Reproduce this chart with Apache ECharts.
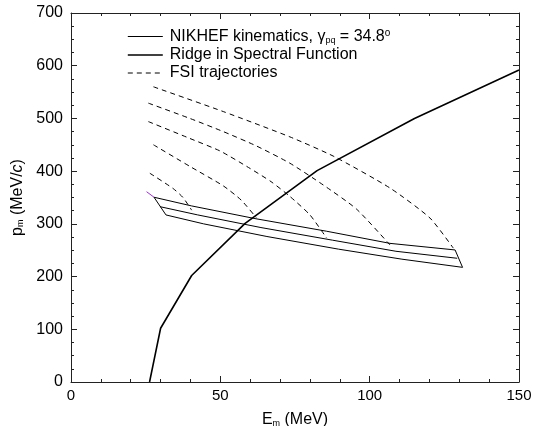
<!DOCTYPE html>
<html>
<head>
<meta charset="utf-8">
<script src="https://cdn.jsdelivr.net/npm/echarts@6/dist/echarts.min.js"></script>
<style>
  html, body { margin: 0; padding: 0; background: #fff; }
  #chart { width: 533px; height: 426px; }
</style>
</head>
<body>
<div id="chart"></div>
<script>
// Ridge in spectral function
const ridgeE = [26.3, 30, 40.4, 58.3, 82.4, 115, 150]
const ridgeP = [0, 102, 202, 301, 401, 500, 592]

// NIKHEF kinematics band (upper, middle, lower edges)
const kinTopE = [27.8, 40.4, 61.6, 85.6, 106.8, 128.6]
const kinTopP = [350.5, 334, 310, 286, 263, 250.5]
const kinMidE = [29.8, 42.4, 63.6, 87.6, 108.8, 129.3]
const kinMidP = [332.6, 317, 293, 269, 248, 234.7]
const kinBotE = [31.8, 44.4, 65.6, 89.6, 110.8, 131.1]
const kinBotP = [316.9, 300, 276, 252, 233, 217.5]
const kinTipE = [25.3, 27.8]
const kinTipP = [361, 350.5]

// FSI trajectories
const fsiE = [
  [27.6, 51, 73.3, 88, 106.8, 120.2, 128],
  [25.9, 39.8, 51, 62, 73.3, 84.4, 95.6, 106.8],
  [25.9, 39.8, 50, 60, 67, 73.3, 80, 85.6],
  [27.6, 39.8, 51, 57, 62],
  [26.4, 34.2, 37.5, 40.4]
]
const fsiP = [
  [560, 513, 465, 428, 368, 311, 254],
  [529, 500, 475, 448, 415, 374, 328, 260],
  [494, 462, 438, 405, 380, 352, 317, 273],
  [450, 409, 372, 345, 312],
  [396, 367, 350, 326]
]

const xTicks = [0, 50, 100, 150]
const yTicks = [0, 100, 200, 300, 400, 500, 600, 700]

const font = '"Liberation Sans", Arial, sans-serif'
const zip = (a, b) => a.map((v, i) => [v, b[i]])

const chart = echarts.init(document.getElementById('chart'), null, { renderer: 'canvas' })

const makeAxis = (isX, shown) => ({
  type: 'value',
  min: isX ? xTicks[0] : yTicks[0],
  max: isX ? xTicks[xTicks.length - 1] : yTicks[yTicks.length - 1],
  interval: isX ? 50 : 100,
  position: isX ? (shown ? 'bottom' : 'top') : (shown ? 'left' : 'right'),
  axisLine: { show: true, onZero: false, lineStyle: { color: '#222', width: 1 } },
  axisTick: { show: true, inside: true, length: 6, lineStyle: { color: '#222' } },
  minorTick: { show: true, splitNumber: isX ? 5 : 4, length: 3, lineStyle: { color: '#222' } },
  splitLine: { show: false },
  axisLabel: { show: shown, color: '#000', fontSize: isX ? 15 : 16, fontFamily: font, margin: isX ? 6 : 8 }
})

const xMain = makeAxis(true, true)
xMain.name = '{t|E}{s|m}{t| (MeV)}'
xMain.nameLocation = 'middle'
xMain.nameGap = 30
xMain.nameTextStyle = {
  rich: {
    t: { fontSize: 16, fontFamily: font, color: '#000' },
    s: { fontSize: 9, fontFamily: font, color: '#000', verticalAlign: 'bottom', padding: [7, 0, 0, 0] }
  }
}

const yMain = makeAxis(false, true)
yMain.name = '{t|p}{s|m}{t| (MeV/}{i|c}{t|)}'
yMain.nameLocation = 'middle'
yMain.nameGap = 36
yMain.nameTextStyle = {
  rich: {
    t: { fontSize: 16, fontFamily: font, color: '#000' },
    i: { fontSize: 16, fontFamily: font, color: '#000', fontStyle: 'italic' },
    s: { fontSize: 9, fontFamily: font, color: '#000', verticalAlign: 'bottom', padding: [7, 0, 0, 0] }
  }
}

const series = []

series.push({
  name: 'NIKHEF',
  type: 'line',
  data: zip(kinTopE, kinTopP).concat(zip(kinBotE, kinBotP).reverse(), [[kinTopE[0], kinTopP[0]]]),
  symbol: 'none',
  lineStyle: { color: '#000', width: 1 },
  itemStyle: { color: '#000' }
})
series.push({
  name: 'NIKHEF',
  type: 'line',
  data: zip(kinMidE, kinMidP),
  symbol: 'none',
  lineStyle: { color: '#000', width: 1 },
  itemStyle: { color: '#000' }
})
series.push({
  type: 'line',
  data: zip(kinTipE, kinTipP),
  symbol: 'none',
  lineStyle: { color: '#9933cc', width: 1 }
})

series.push({
  name: 'Ridge',
  type: 'line',
  data: zip(ridgeE, ridgeP),
  symbol: 'none',
  lineStyle: { color: '#000', width: 1.6 },
  itemStyle: { color: '#000' }
})

fsiE.forEach((es, i) => {
  series.push({
    name: 'FSI',
    type: 'line',
    data: zip(es, fsiP[i]),
    smooth: 0.2,
    symbol: 'none',
    lineStyle: { color: '#000', width: 1, type: [5, 4] },
    itemStyle: { color: '#000' }
  })
})

const legendText = {
  NIKHEF: '{g| }{t|NIKHEF kinematics, γ}{s|pq}{t| = 34.8}{u|o}',
  Ridge: '{g| }{t|Ridge in Spectral Function}',
  FSI: '{g| }{t|FSI trajectories}'
}

chart.setOption({
  backgroundColor: '#fff',
  animation: false,
  grid: { left: 71, right: 14, top: 13, bottom: 44, containLabel: false, outerBoundsMode: 'none' },
  legend: {
    data: [
      { name: 'NIKHEF', itemStyle: { opacity: 0 }, lineStyle: { width: 1, color: '#000' } },
      { name: 'Ridge', itemStyle: { opacity: 0 }, lineStyle: { width: 1.6, color: '#000' } },
      { name: 'FSI', itemStyle: { opacity: 0 }, lineStyle: { width: 1, color: '#000', type: [5, 4] } }
    ],
    orient: 'vertical',
    left: 122,
    top: 23,
    itemWidth: 35,
    itemHeight: 10,
    itemGap: 2,
    selectedMode: false,
    formatter: name => legendText[name],
    textStyle: {
      rich: {
        g: { width: 2, fontSize: 16 },
        t: { fontSize: 16, fontFamily: font, color: '#000' },
        s: { fontSize: 9, fontFamily: font, color: '#000', verticalAlign: 'bottom', padding: [7, 0, 0, 0] },
        u: { fontSize: 10, fontFamily: font, color: '#000', verticalAlign: 'top', padding: [0, 0, 7, 0] }
      }
    }
  },
  xAxis: [xMain, makeAxis(true, false)],
  yAxis: [yMain, makeAxis(false, false)],
  series
})
</script>
</body>
</html>
